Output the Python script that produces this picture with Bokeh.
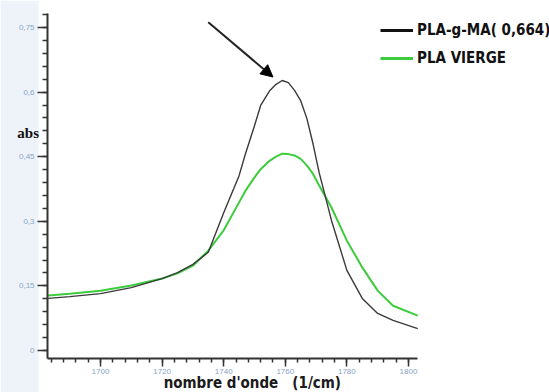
import numpy as np
from bokeh.plotting import figure
from bokeh.models import (Range1d, FixedTicker, Label, Legend, LegendItem, Arrow,
                          NormalHead, ColumnDataSource, BoxAnnotation)
from bokeh.embed import file_html
from bokeh.resources import INLINE

# ---- data ----
wavenumber = [1683, 1690, 1700, 1710, 1720, 1725, 1730, 1735, 1740, 1745, 1747, 1750, 1752,
              1755, 1757, 1759, 1761, 1763, 1765, 1767, 1769, 1771, 1775, 1780, 1785, 1790,
              1795, 1803]
pla_g_ma = [0.121, 0.125, 0.132, 0.146, 0.167, 0.181, 0.200, 0.228, 0.320, 0.406, 0.455, 0.522,
            0.569, 0.604, 0.618, 0.627, 0.622, 0.604, 0.580, 0.539, 0.480, 0.413, 0.302,
            0.186, 0.121, 0.086, 0.070, 0.051]
pla_vierge = [0.128, 0.132, 0.139, 0.151, 0.167, 0.179, 0.197, 0.232, 0.279, 0.344, 0.370, 0.402,
              0.421, 0.441, 0.450, 0.457, 0.456, 0.453, 0.445, 0.430, 0.410, 0.383, 0.332,
              0.255, 0.193, 0.139, 0.104, 0.081]
x_ticks = [1700, 1720, 1740, 1760, 1780, 1800]
x_tick_labels = ["1700", "1720", "1740", "1760", "1780", "1800"]
y_ticks = [0, 0.15, 0.3, 0.45, 0.6, 0.75]
y_tick_labels = ["0", "0,15", "0,3", "0,45", "0,6", "0,75"]
series_names = ["PLA-g-MA( 0,664)", "PLA VIERGE"]

X_AXIS = (1682.8, 1802.9)
Y_AXIS = (-0.0186, 0.7825)

NARROW = "'Liberation Sans Narrow', 'DejaVu Sans Condensed', sans-serif"

p = figure(width=549, height=392, output_backend="svg", toolbar_location=None,
           x_range=Range1d(1667.53, 1845.79), y_range=Range1d(-0.0975, 0.8127),
           min_border_left=0, min_border_right=0, min_border_top=0, min_border_bottom=0)
p.outline_line_color = None
p.grid.visible = False
p.background_fill_color = "white"
p.border_fill_color = "white"

# pale bluish strip on the left, as in the scan
p.add_layout(BoxAnnotation(right=1679.9, fill_color="#eef3fa", fill_alpha=1,
                           line_alpha=0, level="underlay"))

src = ColumnDataSource(dict(x=wavenumber, a=pla_g_ma, b=pla_vierge))
p.line("x", "b", source=src, line_color="#3ccc3c", line_width=2)
p.line("x", "a", source=src, line_color="#3a3a3a", line_width=1.4)

# legend proxies (thicker strokes, as in the picture); a single NaN point draws nothing
r1 = p.line([np.nan], [np.nan], line_color="#111111", line_width=3)
r2 = p.line([np.nan], [np.nan], line_color="#3ccc3c", line_width=3)
legend = Legend(items=[LegendItem(label=series_names[0], renderers=[r1]),
                       LegendItem(label=series_names[1], renderers=[r2])],
                location=(380, 324), orientation="vertical",
                glyph_width=33, glyph_height=20, label_height=20, spacing=8,
                label_standoff=4, padding=0, margin=0,
                label_text_font=NARROW, label_text_font_style="bold",
                label_text_font_size="15px", label_text_color="#111111",
                border_line_alpha=0, background_fill_alpha=0)
p.add_layout(legend, "center")

# axes
for ax in (p.xaxis, p.yaxis):
    ax.axis_line_color = "#333333"
    ax.axis_line_width = 2
    ax.major_tick_line_color = "#333333"
    ax.minor_tick_line_color = "#333333"
    ax.major_tick_line_width = 1.5
    ax.minor_tick_line_width = 1.5
    ax.major_label_text_color = "#88a4c6"
    ax.major_label_text_font_size = "8px"
    ax.major_tick_in = 0
    ax.minor_tick_in = 0

p.yaxis.fixed_location = X_AXIS[0]
p.yaxis.bounds = Y_AXIS
p.yaxis.ticker = FixedTicker(ticks=y_ticks,
                             minor_ticks=[round(i * 0.03, 2) for i in range(0, 27)])
p.yaxis.major_label_overrides = dict(zip(y_ticks, y_tick_labels))
p.yaxis.major_tick_out = 10
p.yaxis.minor_tick_out = 5
p.yaxis.major_label_standoff = 3

p.xaxis.fixed_location = Y_AXIS[0]
p.xaxis.bounds = X_AXIS
p.xaxis.ticker = FixedTicker(ticks=x_ticks,
                             minor_ticks=[1684 + 4 * i for i in range(0, 30)])
p.xaxis.major_label_overrides = dict(zip(x_ticks, x_tick_labels))
p.xaxis.major_tick_out = 8
p.xaxis.minor_tick_out = 4
p.xaxis.major_label_standoff = 2

# axis titles as labels
p.add_layout(Label(x=1673.0, y=0.504, text="abs", text_font="'Liberation Serif', serif",
                   text_font_style="bold", text_font_size="15px", text_color="#111111",
                   text_baseline="middle", text_align="left"))
p.add_layout(Label(x=1720.5, y=-0.0766, text="nombre d'onde\u00a0\u00a0\u00a0(1/cm)",
                   text_font=NARROW, text_font_style="bold", text_font_size="15px",
                   text_color="#1a1a1a", text_baseline="middle", text_align="left"))

# arrow pointing at the peak of PLA-g-MA
i_pk = int(np.argmax(pla_g_ma))
px, py = wavenumber[i_pk], pla_g_ma[i_pk]
p.add_layout(Arrow(end=NormalHead(size=12, fill_color="black", line_color="black"),
                   x_start=px - 24, y_start=py + 0.135, x_end=px - 3, y_end=py + 0.008,
                   line_color="#222222", line_width=2))

open("out.html", "w").write(file_html(p, INLINE))
